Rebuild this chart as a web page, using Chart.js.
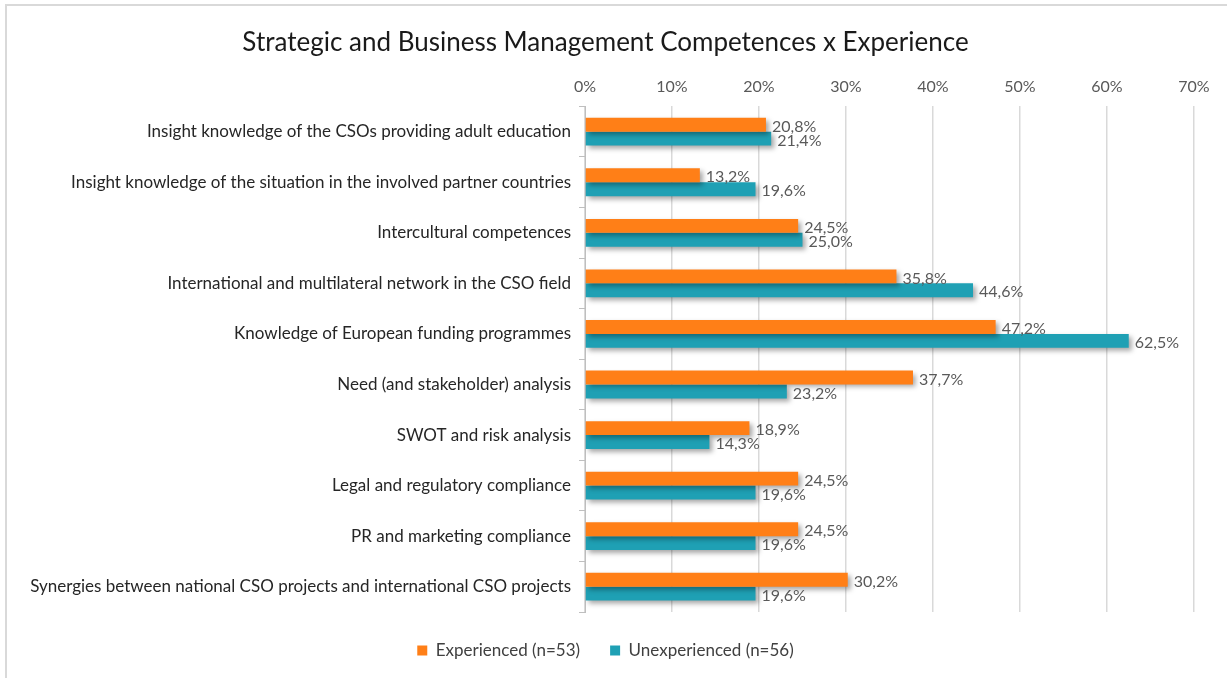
<!DOCTYPE html>
<html>
<head>
<meta charset="utf-8">
<script src="https://cdn.jsdelivr.net/npm/chart.js@4/dist/chart.umd.min.js"></script>
<style>
    html, body { margin: 0; padding: 0; background: #fff; }
    #frame {
        position: absolute; left: 5px; top: 4px;
        width: 1222px; height: 674px;
        border-left: 2px solid #d9d9d9; border-top: 2px solid #d9d9d9;
    }
    #chart { display: block; }
</style>
</head>
<body>
<div id="frame"><canvas id="chart" width="1220" height="672"></canvas></div>
<script>
const categories = [
    "Insight knowledge of the CSOs providing adult education",
    "Insight knowledge of the situation in the involved partner countries",
    "Intercultural competences",
    "International and multilateral network in the CSO field",
    "Knowledge of European funding programmes",
    "Need (and stakeholder) analysis",
    "SWOT and risk analysis",
    "Legal and regulatory compliance",
    "PR and marketing compliance",
    "Synergies between national CSO projects and international CSO projects"
];
const experienced = [20.8, 13.2, 24.5, 35.8, 47.2, 37.7, 18.9, 24.5, 24.5, 30.2];
const unexperienced = [21.4, 19.6, 25.0, 44.6, 62.5, 23.2, 14.3, 19.6, 19.6, 19.6];
const seriesNames = ["Experienced (n=53)", "Unexperienced (n=56)"];
const xTicks = [0, 10, 20, 30, 40, 50, 60, 70];

const fontFamily = "Lato, 'Open Sans', sans-serif";

// drop shadow under bars + value labels at bar ends
const barExtras = {
    id: "barExtras",
    beforeDatasetsDraw(chart) {
        const ctx = chart.ctx;
        ctx.save();
        ctx.shadowColor = "rgba(0,0,0,0.35)";
        ctx.shadowBlur = 5;
        ctx.shadowOffsetX = 3;
        ctx.shadowOffsetY = 3;
    },
    afterDatasetsDraw(chart) {
        const ctx = chart.ctx;
        ctx.restore();
        ctx.save();
        ctx.font = "16px " + fontFamily;
        ctx.fillStyle = "#595959";
        ctx.textAlign = "left";
        ctx.textBaseline = "middle";
        chart.data.datasets.forEach((ds, i) => {
            chart.getDatasetMeta(i).data.forEach((bar, j) => {
                const txt = ds.data[j].toFixed(1).replace(".", ",") + "%";
                ctx.fillText(txt, bar.x + 6, bar.y + 2);
            });
        });
        ctx.restore();
    }
};

new Chart(document.getElementById("chart"), {
    type: "bar",
    data: {
        labels: categories,
        datasets: [{
            label: seriesNames[0],
            data: experienced,
            backgroundColor: "#FF7F17",
            categoryPercentage: 0.55,
            barPercentage: 1.0
        }, {
            label: seriesNames[1],
            data: unexperienced,
            backgroundColor: "#1FA0B4",
            categoryPercentage: 0.55,
            barPercentage: 1.0
        }]
    },
    options: {
        indexAxis: "y",
        responsive: false,
        animation: false,
        layout: { padding: { left: 10, right: 33, top: 0, bottom: 9 } },
        scales: {
            x: {
                position: "top",
                min: 0,
                max: 70,
                afterBuildTicks: (axis) => { axis.ticks = xTicks.map(v => ({ value: v })); },
                ticks: {
                    color: "#595959",
                    font: { family: fontFamily, size: 16 },
                    padding: 10,
                    callback: (v) => v + "%"
                },
                grid: { color: "#d9d9d9", lineWidth: 1.5, drawTicks: false },
                border: { display: false }
            },
            y: {
                afterFit: (scale) => { scale.width = 568; },
                ticks: {
                    color: "#262626",
                    font: { family: fontFamily, size: 17 },
                    padding: 8
                },
                grid: { display: true, drawOnChartArea: false, offset: true, tickLength: 6, color: "#bfbfbf" },
                border: { display: true, color: "#bfbfbf" }
            }
        },
        plugins: {
            title: {
                display: true,
                text: "Strategic and Business Management Competences x Experience",
                color: "#1a1a1a",
                font: { family: fontFamily, size: 26, weight: "normal" },
                padding: { top: 21, bottom: 9 }
            },
            legend: {
                position: "bottom",
                labels: {
                    color: "#404040",
                    font: { family: fontFamily, size: 17 },
                    boxWidth: 10,
                    boxHeight: 10,
                    padding: 30
                }
            },
            tooltip: { enabled: false }
        }
    },
    plugins: [barExtras]
});
</script>
</body>
</html>
